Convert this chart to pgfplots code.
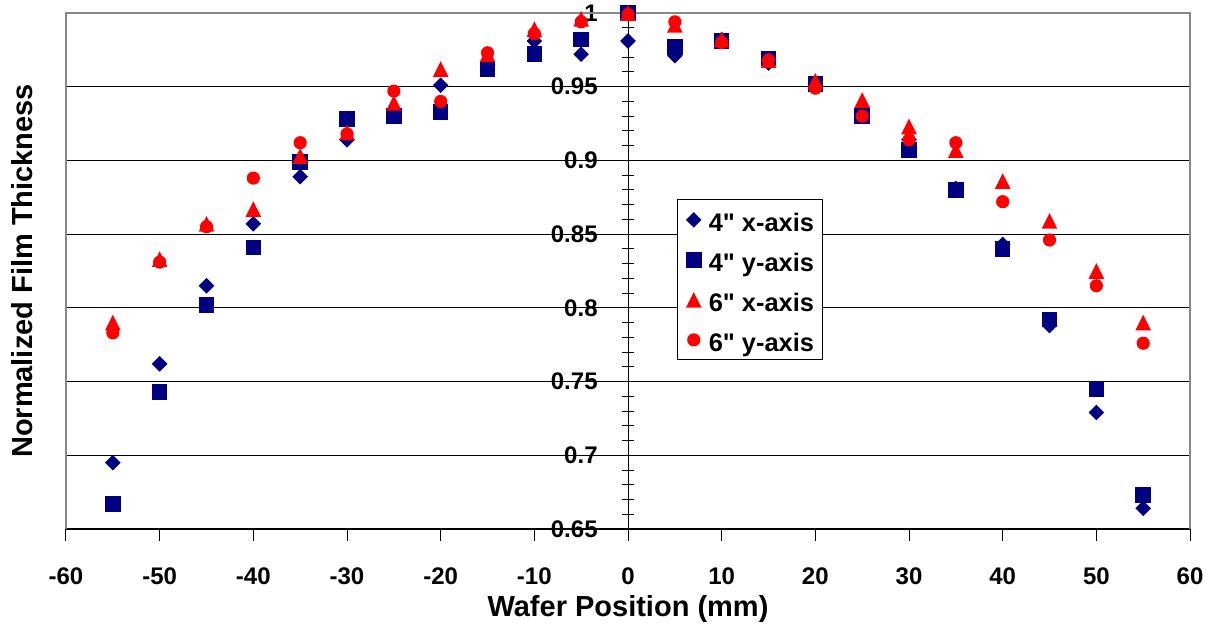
\documentclass[border=0pt]{standalone}
\usepackage{fontspec}
\setmainfont{Liberation Sans}[Ligatures=TeXOff]
\usepackage{pgfplots}
\usepackage{pgfplotstable}
\pgfplotsset{compat=1.18}
\definecolor{navyb}{RGB}{0,0,128}
\definecolor{redm}{RGB}{255,0,0}
\definecolor{boxgray}{RGB}{136,136,136}
\pgfdeclareplotmark{ediamond}{%
  \pgfpathmoveto{\pgfqpoint{0pt}{\pgfplotmarksize}}%
  \pgfpathlineto{\pgfqpoint{\pgfplotmarksize}{0pt}}%
  \pgfpathlineto{\pgfqpoint{0pt}{-\pgfplotmarksize}}%
  \pgfpathlineto{\pgfqpoint{-\pgfplotmarksize}{0pt}}%
  \pgfpathclose\pgfusepathqfill}
\pgfdeclareplotmark{etri}{%
  \pgfpathmoveto{\pgfqpoint{0pt}{\pgfplotmarksize}}%
  \pgfpathlineto{\pgfqpoint{\pgfplotmarksize}{-\pgfplotmarksize}}%
  \pgfpathlineto{\pgfqpoint{-\pgfplotmarksize}{-\pgfplotmarksize}}%
  \pgfpathclose\pgfusepathqfill}
\pgfdeclareplotmark{esquare}{%
  \pgfpathrectangle{\pgfqpoint{-\pgfplotmarksize}{-\pgfplotmarksize}}{\pgfqpoint{2\pgfplotmarksize}{2\pgfplotmarksize}}%
  \pgfusepathqfill}
\pgfdeclareplotmark{ecircle}{%
  \pgfpathcircle{\pgfpointorigin}{\pgfplotmarksize}\pgfusepathqfill}
\pgfplotsset{mylegend/.style={legend image code/.code={\draw[##1] plot coordinates {(0pt,0pt)};}}}
\pgfplotstableread{
x    a      b      c      d
-55  0.695  0.667  0.790  0.783
-50  0.762  0.743  0.833  0.831
-45  0.815  0.802  0.857  0.855
-40  0.857  0.841  0.867  0.888
-35  0.889  0.899  0.903  0.912
-30  0.914  0.928  0.919  0.918
-25  0.932  0.930  0.939  0.947
-20  0.951  0.933  0.962  0.940
-15  0.965  0.962  0.972  0.973
-10  0.981  0.972  0.989  0.986
-5   0.972  0.982  0.996  0.994
0    0.981  1.000  1.000  0.999
5    0.971  0.977  0.992  0.994
10   0.982  0.981  0.982  0.980
15   0.966  0.969  0.968  0.968
20   0.952  0.952  0.954  0.949
25   0.931  0.930  0.941  0.930
30   0.914  0.907  0.923  0.914
35   0.881  0.880  0.907  0.912
40   0.843  0.840  0.886  0.872
45   0.788  0.792  0.859  0.846
50   0.729  0.745  0.825  0.815
55   0.664  0.673  0.790  0.776
}\datatable
\begin{document}
\begin{tikzpicture}
\path[use as bounding box] (-33pt,-47.5pt) rectangle (572.5pt,264.5pt);
\begin{axis}[
  at={(0pt,0pt)}, anchor=south west,
  scale only axis, width=562pt, height=258pt,
  xmin=-60, xmax=60, ymin=0.65, ymax=1,
  axis x line*=bottom, axis y line*=center,
  x axis line style={black, line width=0.6pt},
  y axis line style={black, line width=0.5pt},
  xtick={-60,-50,-40,-30,-20,-10,0,10,20,30,40,50,60},
  xticklabels={-60,-50,-40,-30,-20,-10,0,10,20,30,40,50,60},
  ytick={0.65,0.7,0.75,0.8,0.85,0.9,0.95,1},
  yticklabels={0.65,0.7,0.75,0.8,0.85,0.9,0.95,1},
  minor y tick num=4,
  tick align=center,
  major tick length=6pt, minor tick length=6pt,
  tick style={black, line width=0.5pt},
  xtick style={yshift=-3pt},
  ymajorgrids, grid style={black, line width=0.5pt},
  hide obscured x ticks=false, hide obscured y ticks=false,
  clip=false,
  /pgf/number format/assume math mode=true,
  tick label style={font=\fontsize{12}{14}\selectfont\bfseries},
  xticklabel style={anchor=base, inner sep=0pt, yshift=-25pt},
  yticklabel style={anchor=east, inner sep=0pt, xshift=-12pt},
  every axis x label/.style={at={(rel axis cs:0.5,0)}, anchor=base, inner sep=0pt, yshift=-44pt, font=\fontsize{14.5}{17}\selectfont\bfseries},
  every axis y label/.style={at={(rel axis cs:-0.0296,0.5)}, rotate=90, anchor=south, inner sep=0pt, font=\fontsize{14.5}{17}\selectfont\bfseries},
  xlabel={Wafer Position (mm)},
  ylabel={Normalized Film Thickness},
  legend style={at={(0.5433,0.6388)}, anchor=north west, draw=black, line width=0.5pt, fill=white,
    font=\fontsize{12.7}{15}\selectfont\bfseries, inner xsep=4.4pt, inner ysep=2pt, row sep=4pt, column sep=3.6pt,
    nodes={inner sep=0pt, text height=13.7pt, text depth=2.3pt}},
  legend cell align=left,
]
\draw[boxgray, line width=1pt] (rel axis cs:0,0) -- (rel axis cs:0,1) -- (rel axis cs:1,1) -- (rel axis cs:1,0);
\addplot[only marks, color=navyb, mark=ediamond, mark size=3.9pt, mylegend] table[x=x,y=a]{\datatable};
\addplot[only marks, color=navyb, mark=esquare, mark size=3.9pt, mylegend] table[x=x,y=b]{\datatable};
\addplot[only marks, color=redm, mark=etri, mark size=3.9pt, mylegend] table[x=x,y=c]{\datatable};
\addplot[only marks, color=redm, mark=ecircle, mark size=3.3pt, mylegend] table[x=x,y=d]{\datatable};
\legend{4" x-axis, 4" y-axis, 6" x-axis, 6" y-axis}
\end{axis}
\end{tikzpicture}
\end{document}
